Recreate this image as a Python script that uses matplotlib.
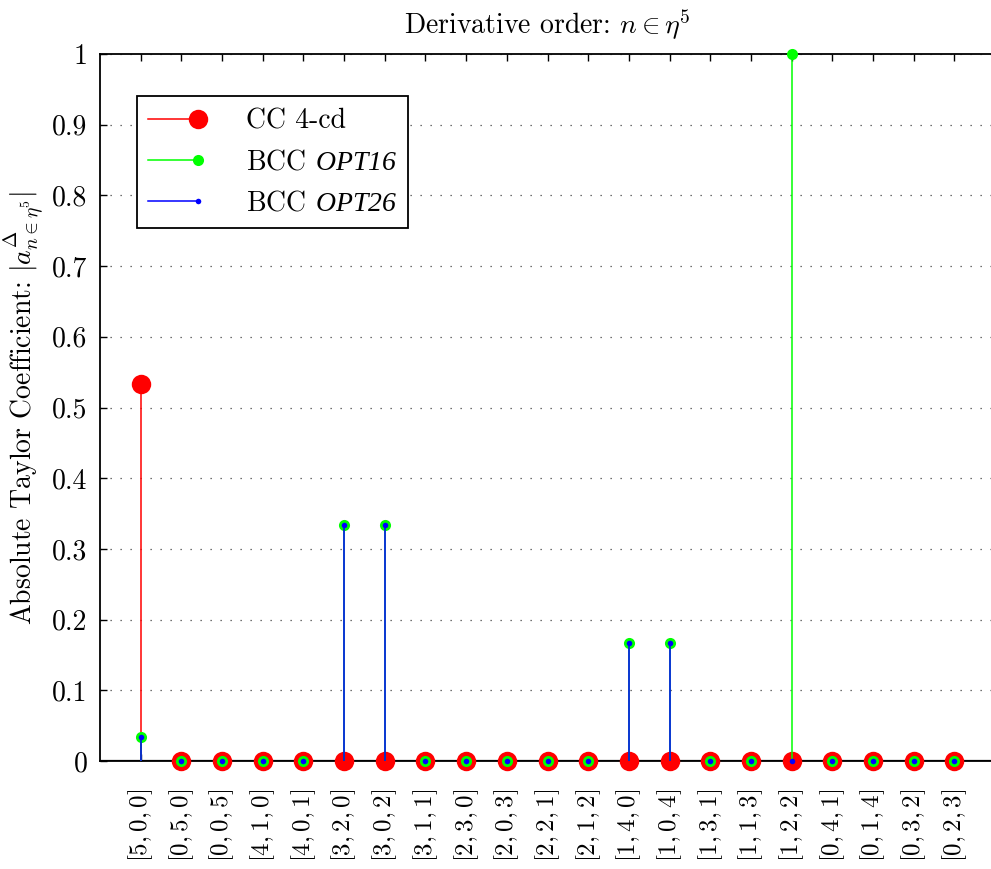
import matplotlib
matplotlib.use("Agg")
import matplotlib.pyplot as plt
from matplotlib.lines import Line2D
from matplotlib.legend_handler import HandlerLine2D
import numpy as np

categories = ["[5,0,0]", "[0,5,0]", "[0,0,5]", "[4,1,0]", "[4,0,1]", "[3,2,0]", "[3,0,2]",
              "[3,1,1]", "[2,3,0]", "[2,0,3]", "[2,2,1]", "[2,1,2]", "[1,4,0]", "[1,0,4]",
              "[1,3,1]", "[1,1,3]", "[1,2,2]", "[0,4,1]", "[0,1,4]", "[0,3,2]", "[0,2,3]"]
cc4cd = [0.5333, 0, 0, 0, 0, 0, 0, 0, 0, 0, 0, 0, 0, 0, 0, 0, 0, 0, 0, 0, 0]
opt16 = [0.0333, 0, 0, 0, 0, 0.3333, 0.3333, 0, 0, 0, 0, 0, 0.1667, 0.1667, 0, 0, 1.0, 0, 0, 0, 0]
opt26 = [0.0333, 0, 0, 0, 0, 0.3333, 0.3333, 0, 0, 0, 0, 0, 0.1667, 0.1667, 0, 0, 0, 0, 0, 0, 0]
series_names = ["CC 4-cd", r"BCC $\mathsf{OPT16}$", r"BCC $\mathsf{OPT26}$"]
yticks = [0, 0.1, 0.2, 0.3, 0.4, 0.5, 0.6, 0.7, 0.8, 0.9, 1]

plt.rcParams['font.family'] = 'serif'
plt.rcParams['font.serif'] = ['cmr10', 'DejaVu Serif']
plt.rcParams['mathtext.fontset'] = 'cm'
plt.rcParams['mathtext.sf'] = 'Liberation Serif:italic'
plt.rcParams['axes.unicode_minus'] = False
plt.rcParams['axes.formatter.use_mathtext'] = True

FS = 20
fig = plt.figure(figsize=(9.91, 8.69), dpi=100)
ax = fig.add_axes([100/991, 108/869, 895/991, 707/869])

x = np.arange(1, len(categories) + 1)
colors = ['#ff0000', '#00ff00', '#0000ff']
msizes = [14, 8, 4]
data = [cc4cd, opt16, opt26]

for i, (vals, c, ms) in enumerate(zip(data, colors, msizes)):
    vals = np.array(vals)
    ax.vlines(x, 0, vals, colors=c, lw=1.1, zorder=3 + 2*i)
    ax.plot(x, vals, 'o', color=c, markersize=ms, markeredgewidth=0, zorder=4 + 2*i, clip_on=False)

ax.axhline(0, color='black', lw=1.6, zorder=2.5)

ax.set_xlim(0, 22)
ax.set_ylim(0, 1)
ax.set_xticks(x)
ax.set_xticklabels([r"$" + c + r"$" for c in categories], rotation=90, fontsize=18)
ax.set_yticks(yticks)
ax.set_yticklabels([("%g" % t) for t in yticks], fontsize=FS)
ax.tick_params(direction='in', top=True, right=False, length=5, width=1, pad=9)
ax.tick_params(axis='x', pad=20)
for s in ['left', 'top', 'bottom']:
    ax.spines[s].set_linewidth(1.3)
ax.spines['right'].set_visible(False)
ax.yaxis.grid(True, linestyle=(0, (1, 7)), color='#444444', lw=0.9)
ax.set_axisbelow(True)

ax.set_title(r"Derivative order: $n \in \eta^5$", fontsize=FS, pad=14)
ax.set_ylabel(r"Absolute Taylor Coefficient: $|a^{\Delta}_{n\in\eta^5}|$", fontsize=FS, labelpad=4)


class StemHandler(HandlerLine2D):
    def create_artists(self, legend, orig_handle, xdescent, ydescent, width, height, fontsize, trans):
        y = height / 2 - ydescent
        x0 = -xdescent
        x1 = -xdescent + width
        line = Line2D([x0, x1], [y, y], color=orig_handle.get_color(), lw=1.1)
        mk = Line2D([x1], [y], marker='o', linestyle='none', color=orig_handle.get_color(),
                    markersize=orig_handle.get_markersize(), markeredgewidth=0)
        line.set_transform(trans)
        mk.set_transform(trans)
        return [line, mk]


handles = [Line2D([], [], color=c, marker='o', markersize=ms) for c, ms in zip(colors, msizes)]
leg = ax.legend(handles, series_names, loc='upper left', bbox_to_anchor=(0.041, 0.94),
                fontsize=FS, handler_map={Line2D: StemHandler()}, handlelength=1.8,
                handletextpad=1.7, borderpad=0.42, labelspacing=0.53, fancybox=False,
                framealpha=1, edgecolor='black', borderaxespad=0)
leg.get_frame().set_linewidth(1.3)
for t in leg.get_texts():
    t.set_math_fontfamily('custom')

fig.savefig("out.png", dpi=100)
